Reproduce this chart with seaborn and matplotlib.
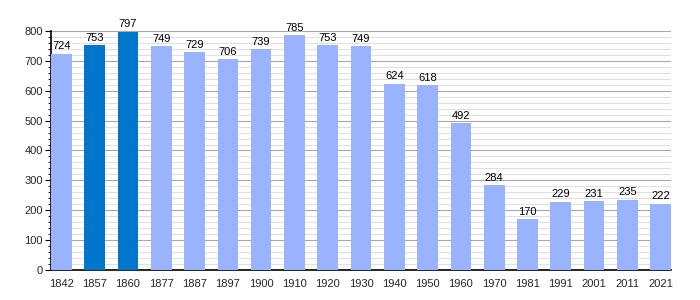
import matplotlib
matplotlib.use("Agg")
import matplotlib.pyplot as plt
import seaborn as sns
import pandas as pd
from matplotlib.ticker import MultipleLocator

years = ["1842", "1857", "1860", "1877", "1887", "1897", "1900", "1910", "1920", "1930",
         "1940", "1950", "1960", "1970", "1981", "1991", "2001", "2011", "2021"]
population = [724, 753, 797, 749, 729, 706, 739, 785, 753, 749,
              624, 618, 492, 284, 170, 229, 231, 235, 222]
highlight = ["1857", "1860"]

light = "#99b3ff"
dark = "#0077cc"

df = pd.DataFrame({"year": years, "pop": population})
palette = {y: (dark if y in highlight else light) for y in years}

sns.set_style("white")
plt.rcParams['font.family'] = ['Liberation Sans', 'DejaVu Sans']

fig = plt.figure(figsize=(7, 3), dpi=100)
ax = fig.add_axes([0.0729, 0.1, 0.8857, 0.7967])

bw = 0.62
sns.barplot(data=df, x="year", y="pop", hue="year", palette=palette, legend=False,
            width=bw, ax=ax, zorder=3, saturation=1, linewidth=0, edgecolor="none")

ax.set_ylim(0, 800)
ax.set_xlim(-bw / 2, len(years) - 1 + bw / 2)
ax.yaxis.set_major_locator(MultipleLocator(100))
ax.yaxis.set_minor_locator(MultipleLocator(20))
ax.grid(which="major", axis="y", color="#a8a8a8", linewidth=0.8, zorder=0)
ax.grid(which="minor", axis="y", color="#e0e0e0", linewidth=0.8, zorder=0)
ax.set_axisbelow(True)

for s in ["top", "right"]:
    ax.spines[s].set_visible(False)
for s in ["left", "bottom"]:
    ax.spines[s].set_color("black")
    ax.spines[s].set_linewidth(1.2)

ax.tick_params(axis="y", which="major", left=True, length=4, width=0.8, labelsize=8, color="black", pad=2)
ax.tick_params(axis="y", which="minor", left=True, length=2.5, width=0.6, color="black")
ax.tick_params(axis="x", bottom=False, labelsize=8, pad=3)
ax.set_xlabel("")
ax.set_ylabel("")

for i, v in enumerate(population):
    ax.text(i, v + 8, str(v), ha="center", va="bottom", fontsize=8, color="black")

fig.savefig("out.png", dpi=100)
